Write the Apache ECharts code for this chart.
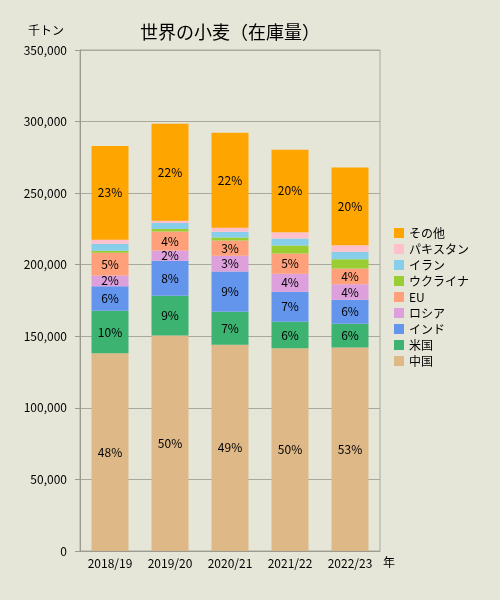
<!DOCTYPE html>
<html>
<head>
<meta charset="utf-8">
<script src="https://cdn.jsdelivr.net/npm/echarts@6/dist/echarts.min.js"></script>
<style>
  html, body { margin: 0; padding: 0; background: #e6e6d8; }
  #chart { width: 500px; height: 600px; }
</style>
</head>
<body>
<div id="chart"></div>
<script>
// 年度
const categories = ["2018/19", "2019/20", "2020/21", "2021/22", "2022/23"];
// 在庫量（千トン）
const china    = [138100, 150500, 144000, 141700, 142200];
const usa      = [29800, 27800, 23100, 18400, 16500];
const india    = [17100, 24400, 28200, 21000, 16800];
const russia   = [7500, 7300, 10900, 12600, 10800];
const eu       = [15900, 13200, 10700, 14100, 11000];
const ukraine  = [1300, 1700, 2100, 5600, 6500];
const iran     = [4900, 4200, 4000, 4900, 5200];
const pakistan = [2800, 1600, 2800, 4400, 4600];
const others   = [65600, 67800, 66400, 57700, 54400];
// y軸目盛
const yTicks = [0, 50000, 100000, 150000, 200000, 250000, 300000, 350000];

const seriesDefs = [
    { name: "中国", data: china, color: "#deb887", label: true },
    { name: "米国", data: usa, color: "#3cb371", label: true },
    { name: "インド", data: india, color: "#6495ed", label: true },
    { name: "ロシア", data: russia, color: "#dda0dd", label: true },
    { name: "EU", data: eu, color: "#ffa07a", label: true },
    { name: "ウクライナ", data: ukraine, color: "#9acd32", label: false },
    { name: "イラン", data: iran, color: "#87ceeb", label: false },
    { name: "パキスタン", data: pakistan, color: "#ffc0cb", label: false },
    { name: "その他", data: others, color: "#ffa500", label: true },
];

// 各年度の合計
const totals = categories.map((c, i) =>
    seriesDefs.reduce((s, d) => s + d.data[i], 0));

const font = '"Noto Sans CJK JP", sans-serif';

let myChart = echarts.init(document.getElementById("chart"));
let option = {
    backgroundColor: "#e6e6d8",
    textStyle: { fontFamily: font },
    title: {
        text: "世界の小麦（在庫量）",
        left: 230,
        textAlign: "center",
        top: 23,
        padding: 0,
        textStyle: { fontFamily: font, fontSize: 18, fontWeight: "normal", color: "#000" },
    },
    legend: {
        orient: "vertical",
        left: 389,
        top: 222,
        itemWidth: 10,
        itemHeight: 10,
        itemGap: 4,
        icon: "rect",
        data: seriesDefs.map(d => d.name).reverse(),
        textStyle: { fontFamily: font, fontSize: 12, lineHeight: 12, color: "#000" },
    },
    grid: {
        left: 80,
        right: 120,
        top: 50,
        bottom: 49,
        show: true,
        borderColor: "#a8a89c",
        borderWidth: 1,
    },
    xAxis: {
        type: "category",
        data: categories,
        name: "年",
        nameLocation: "end",
        nameGap: 3,
        nameTextStyle: { fontFamily: font, fontSize: 12, color: "#000", verticalAlign: "top", padding: [5, 0, 0, 0] },
        axisLine: { lineStyle: { color: "#9a9a90" } },
        axisTick: { length: 4, lineStyle: { color: "#9a9a90" } },
        axisLabel: { color: "#000", fontSize: 12, margin: 6 },
    },
    yAxis: {
        type: "value",
        min: 0,
        max: 350000,
        interval: 50000,
        name: "千トン",
        nameLocation: "end",
        nameGap: 14,
        nameTextStyle: { fontFamily: font, fontSize: 12, color: "#000", align: "right", padding: [0, 16, 0, 0] },
        axisLine: { show: true, lineStyle: { color: "#9a9a90" } },
        axisTick: { show: true, length: 5, lineStyle: { color: "#9a9a90" } },
        axisLabel: {
            color: "#000",
            fontSize: 12,
            margin: 13,
            formatter: v => yTicks.includes(v) ? v.toLocaleString("en-US") : "",
        },
        splitLine: { lineStyle: { color: "#a8a89c" } },
    },
    series: seriesDefs.map(d => ({
        name: d.name,
        type: "bar",
        stack: "total",
        barWidth: 37,
        data: d.data,
        itemStyle: { color: d.color },
        label: {
            show: d.label,
            position: "inside",
            color: "#000",
            fontSize: 12,
            fontFamily: font,
            formatter: p => Math.floor(p.value / totals[p.dataIndex] * 100) + "%",
        },
    })),
};
myChart.setOption(option);
window.addEventListener("resize", function () {
    myChart.resize();
});
</script>
</body>
</html>
